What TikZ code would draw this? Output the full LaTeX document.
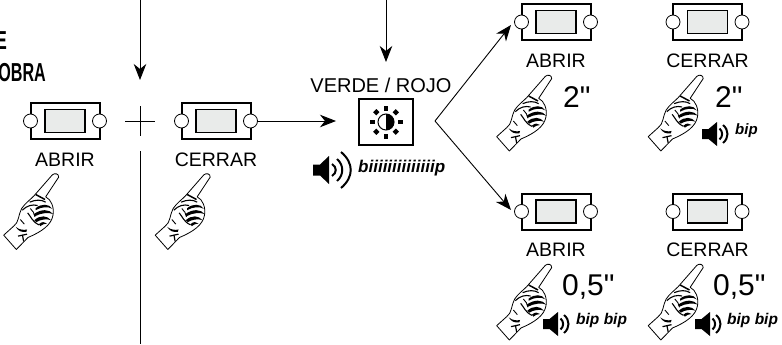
\documentclass[tikz,border=0pt]{standalone}
\usepackage{fontspec}
\setmainfont{Liberation Sans}
\newfontfamily\rawsans{Liberation Sans}
\usetikzlibrary{arrows.meta}
\definecolor{panel}{HTML}{E9EBEA}
\newcommand{\fsz}[1]{\fontsize{#1}{#1}\selectfont}
\tikzset{
  x=1pt,y=-1pt,
  conn/.style={line width=.9pt,-{Stealth[length=16pt,width=12.5pt,inset=5pt]}},
  plain/.style={line width=.9pt},
  lab/.style={inner sep=0pt,font=\fsz{19.5}},
  secs/.style={inner sep=0pt,anchor=west,font=\rawsans\fsz{30}},
  snd/.style={inner sep=0pt,anchor=west,font=\fsz{15}\bfseries\itshape},
  pics/pushbtn/.style={code={
    \draw[line width=2pt,fill=white] (-34.5,-18) rectangle (34.5,18);
    \draw[line width=1.2pt,fill=panel] (-20,-11.5) rectangle (20,11.5);
    \draw[line width=.8pt,fill=white] (-34.5,0) circle (7);
    \draw[line width=.8pt,fill=white] (34.5,0) circle (7);
  }},
  pics/handicon/.style={code={
    \begin{scope}[scale=.3333,shift={(-172,-520)}]
      \draw[line width=.8pt,fill=white,line join=round]
        (12,705) -- (42,678) .. controls (58,668) and (56,642) .. (66,625)
        .. controls (76,610) and (90,600) .. (102,588) -- (158,524)
        .. controls (165,518) and (178,520) .. (177,531) -- (138,590)
        .. controls (155,598) and (164,622) .. (160,645)
        .. controls (155,675) and (125,695) .. (85,712) -- (50,748) -- cycle;
      \draw[line width=1.5pt] (108,583) -- (136,598);
      \draw[line width=1.1pt] (90,606) .. controls (108,598) and (125,598) .. (138,606);
      \draw[line width=1.1pt] (68,630) .. controls (82,616) and (98,612) .. (114,616);
      \fill (108,624) .. controls (125,610) and (148,610) .. (158,626)
        .. controls (145,618) and (125,620) .. (108,630) -- cycle;
      \fill (102,642) .. controls (125,626) and (148,626) .. (161,642)
        .. controls (148,636) and (125,638) .. (106,648) -- cycle;
      \fill (104,660) .. controls (122,644) and (142,646) .. (154,660)
        .. controls (140,655) and (122,658) .. (110,666) -- cycle;
      \fill (118,672) .. controls (126,664) and (136,664) .. (142,670)
        .. controls (134,670) and (126,674) .. (122,678) -- cycle;
      \draw[line width=1.1pt] (84,638) .. controls (94,650) and (98,665) .. (118,674);
      \draw[line width=.9pt] (92,625) .. controls (100,632) and (104,640) .. (106,650);
      \fill (48,680) .. controls (60,690) and (72,690) .. (82,688) -- (80,695)
        .. controls (68,697) and (56,694) .. cycle;
      \draw[line width=1.2pt] (55,708) -- (82,702) (68,703) -- (72,724);
      \draw[line width=.9pt] (62,658) -- (74,672);
    \end{scope}
  }},
  pics/spkbase/.style={code={
    \fill (0,-5) -- (6.5,-5) -- (15,-12) -- (15,12) -- (6.5,5) -- (0,5) -- cycle;
    \draw[line width=2pt] (17.5,-5.5) .. controls (21,-2.5) and (21,2.5) .. (17.5,5.5);
    \draw[line width=2pt] (21,-9) .. controls (27,-4) and (27,4) .. (21,9);
  }},
  pics/spkloud/.style={code={
    \fill (0,-5.5) -- (7,-5.5) -- (16,-14) -- (16,14) -- (7,5.5) -- (0,5.5) -- cycle;
    \draw[line width=2pt] (19,-6) .. controls (24,-3) and (24,3) .. (19,6);
    \draw[line width=2pt] (24,-11) .. controls (31,-5) and (31,5) .. (24,11);
    \draw[line width=2pt] (28,-18) .. controls (41,-7) and (41,7) .. (28,18);
  }},
  pics/sunicon/.style={code={
    \draw[line width=1pt,fill=white] (0,0) circle (8);
    \fill (0,-8) .. controls (10.7,-8) and (10.7,8) .. (0,8) -- cycle;
    \foreach \a in {0,90,180,270}{
      \fill[rotate=\a] (11.5,-2) rectangle (16.5,2);
      \fill[rotate=\a+45] (11.5,-2.3) rectangle (16,2.3);
    }
  }},
}
\begin{document}
\begin{tikzpicture}
\useasboundingbox (0,0) rectangle (782,345);
\clip (0,0) rectangle (782,345);

\node[inner sep=0pt,anchor=east,font=\fsz{26}\bfseries,xscale=.62] (tE) at (7,41) {E};
\node[inner sep=0pt,anchor=east,font=\fsz{26}\bfseries,xscale=.62] (tO) at (46,73) {OBRA};

% buttons
\coordinate (b1) at (65,121);
\coordinate (b2) at (216,121);
\coordinate (b3) at (556,22);
\coordinate (b4) at (707.5,22);
\coordinate (b5) at (556,211.5);
\coordinate (b6) at (707.5,211.5);
\foreach \p in {b1,b2,b3,b4,b5,b6}{ \pic at (\p) {pushbtn}; }

\node[lab] (l1) at (65,160) {ABRIR};
\node[lab] (l2) at (216,160) {CERRAR};
\node[lab] (l3) at (556,61) {ABRIR};
\node[lab] (l4) at (707.5,61) {CERRAR};
\node[lab] (l5) at (556,250) {ABRIR};
\node[lab] (l6) at (707.5,250) {CERRAR};
\node[lab,font=\fsz{20}] (l7) at (381,85) {VERDE / ROJO};

% hands
\pic at (57,173.5) {handicon};
\pic at (208.5,173.5) {handicon};
\pic at (550,75) {handicon};
\pic at (701.5,75) {handicon};
\pic at (550,264) {handicon};
\pic at (701.5,264) {handicon};

% plus and long line
\coordinate (v0) at (140,0);
\coordinate (v1) at (140,80);
\coordinate (v2) at (140,151);
\coordinate (v3) at (140,344);
\coordinate (p1) at (125,121);
\coordinate (p2) at (155,121);
\coordinate (p3) at (140,106);
\coordinate (p4) at (140,136);
\draw[conn] (v0) -- (v1);
\draw[plain] (v2) -- (v3);
\draw[line width=.6pt] (p1) -- (p2) (p3) -- (p4);

% centre box
\node[draw,line width=2pt,minimum width=54pt,minimum height=46pt,inner sep=0pt] (box) at (386,122) {};
\pic at (box.center) {sunicon};
\coordinate (a0) at (386,0);
\coordinate (a1) at (386,62);
\draw[conn] (a0) -- (a1);
\coordinate (h0) at (257,121);
\coordinate (h1) at (336,121);
\draw[conn] (h0) -- (h1);

\coordinate (vx) at (435,121);
\coordinate (up) at (511,25);
\coordinate (dn) at (511,210);
\draw[conn] (vx) -- (up);
\draw[conn] (vx) -- (dn);

% sound
\pic at (313,170) {spkloud};
\node[snd,font=\fsz{17}\bfseries\itshape] (s0) at (358,168) {biiiiiiiiiiiiiip};
\pic at (702,134) {spkbase};
\node[snd] (s1) at (735,131) {bip};
\pic at (543,324) {spkbase};
\node[snd,font=\fsz{15.5}\bfseries\itshape] (s2) at (576,320) {bip bip};
\pic at (695,324) {spkbase};
\node[snd,font=\fsz{15.5}\bfseries\itshape] (s3) at (727,320) {bip bip};

% times
\node[secs] (t1) at (563,97) {2"};
\node[secs] (t2) at (715,97) {2"};
\node[secs] (t3) at (562,287) {0,5"};
\node[secs] (t4) at (713,287) {0,5"};
\end{tikzpicture}
\end{document}
